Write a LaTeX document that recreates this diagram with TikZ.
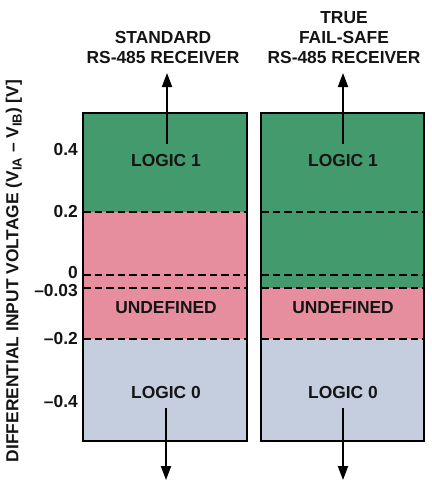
\documentclass[tikz,border=0pt]{standalone}
\usepackage{fontspec}
\setmainfont{Liberation Sans}
\usetikzlibrary{arrows.meta}
\definecolor{gA}{RGB}{67,154,108}
\definecolor{pA}{RGB}{231,142,158}
\definecolor{bA}{RGB}{197,206,223}
\definecolor{txt}{RGB}{20,20,20}
\newcommand{\mysub}[1]{\raisebox{-0.35ex}{\fontsize{13}{14}\selectfont #1}}
\tikzset{
  lbl/.style={font=\fontsize{17.4}{20}\selectfont\bfseries, text=txt, inner sep=0pt, align=center},
  tick/.style={font=\fontsize{17.4}{20}\selectfont\bfseries, text=txt, inner sep=0pt, anchor=east},
  frame/.style={draw=black, line width=2.6pt},
  dline/.style={draw=black, line width=2pt, dash pattern=on 7.5pt off 4pt},
  arr/.style={draw=black, line width=2pt, -{Triangle[length=14pt,width=10pt]}}
}
\begin{document}
\begin{tikzpicture}[x=1pt,y=-1pt]
\useasboundingbox (0,0) rectangle (431,487);
% left column
\fill[gA] (83,113) rectangle (247,212);
\fill[pA] (83,212) rectangle (247,339);
\fill[bA] (83,339) rectangle (247,441);
% right column
\fill[gA] (261,113) rectangle (424,288);
\fill[pA] (261,288) rectangle (424,339);
\fill[bA] (261,339) rectangle (424,441);
% dashed thresholds
\foreach \yy in {212,275,288,339}{
  \draw[dline] (83,\yy) -- (247,\yy);
  \draw[dline] (261,\yy) -- (424,\yy);
}
\draw[frame] (83,113) rectangle (247,441);
\draw[frame] (261,113) rectangle (424,441);
% texts
\node[lbl] (l1) at (166,161) {LOGIC 1};
\node[lbl] (r1) at (343,161) {LOGIC 1};
\node[lbl] (lu) at (166,308) {UNDEFINED};
\node[lbl] (ru) at (343,308) {UNDEFINED};
\node[lbl] (l0) at (166,393) {LOGIC 0};
\node[lbl] (r0) at (343,393) {LOGIC 0};
\node[lbl] (tl) at (163,48) {STANDARD\\RS-485 RECEIVER};
\node[lbl] (tr) at (344,38) {TRUE\\FAIL-SAFE\\RS-485 RECEIVER};
% arrows
\coordinate (la1) at (167,144); \coordinate (la2) at (167,73);
\coordinate (ra1) at (343,144); \coordinate (ra2) at (343,73);
\coordinate (lb1) at (166,408); \coordinate (lb2) at (166,480);
\coordinate (rb1) at (343,408); \coordinate (rb2) at (343,480);
\draw[arr] (la1) -- (la2);
\draw[arr] (ra1) -- (ra2);
\draw[arr] (lb1) -- (lb2);
\draw[arr] (rb1) -- (rb2);
% tick labels
\node[tick] (t1) at (78,150) {0.4};
\node[tick] (t2) at (78,212) {0.2};
\node[tick] (t3) at (78,273) {0};
\node[tick] (t4) at (78,291) {–0.03};
\node[tick] (t5) at (78,339) {–0.2};
\node[tick] (t6) at (78,402) {–0.4};
% axis label
\node[lbl, rotate=90] (ax) at (14,271) {DIFFERENTIAL INPUT VOLTAGE (V\mysub{IA} – V\mysub{IB}) [V]};
\end{tikzpicture}
\end{document}
